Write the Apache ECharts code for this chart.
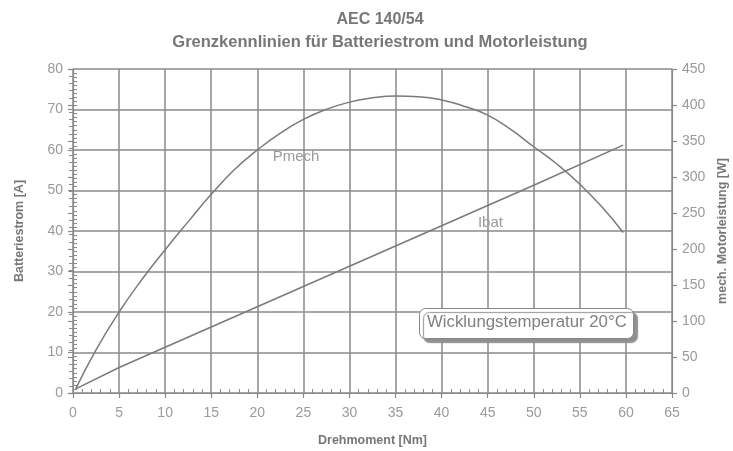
<!DOCTYPE html>
<html>
<head>
<meta charset="utf-8">
<script src="https://cdn.jsdelivr.net/npm/echarts@6/dist/echarts.min.js"></script>
<style>html,body{margin:0;padding:0;background:#fff;}#c{width:733px;height:451px;}</style>
</head>
<body>
<div id="c"></div>
<script>
const torque = [0.3, 2.5, 5, 7.5, 10, 12.5, 15, 17.5, 20, 22.5, 25, 27.5, 30, 32.5, 35, 37.5, 40, 42.5, 45, 47.5, 50, 52.5, 55, 57.5, 59.7];
const pmech  = [6, 60, 112.5, 158, 199, 238, 276, 310, 337.5, 361, 380, 394, 404, 410, 412.5, 411.5, 407, 398, 386, 366, 342, 318, 290, 257, 223];
const ibatTorque = [0.3, 5, 10, 20, 30, 40, 50, 59.7];
const ibat       = [1, 6.3, 11.3, 21.3, 31.3, 41.3, 51.3, 61.2];
const xTicks = [0, 65, 5];
const leftTicks = [0, 80, 10];
const rightTicks = [0, 450, 50];

const grey = '#8a8a8a';
const txt = '#9a9a9a';
const F = 'Liberation Sans, Arial, sans-serif';

const chart = echarts.init(document.getElementById('c'), null, {renderer: 'canvas'});
const axisCommon = {
  axisLine: {show: true, onZero: false, lineStyle: {color: grey, width: 1.2}},
  axisLabel: {color: txt, fontSize: 14, fontFamily: F, margin: 10},
  nameTextStyle: {color: '#777', fontSize: 12.5, fontWeight: 'bold', fontFamily: F}
};
const hiddenLbl = {color: txt, fontSize: 15, fontFamily: F, show: true, position: 'inside'};
chart.setOption({
  animation: false,
  title: [
    {text: 'AEC 140/54', left: 375, textAlign: 'center', top: 7, textStyle: {color: '#777', fontSize: 16, fontWeight: 'bold', fontFamily: F}},
    {text: 'Grenzkennlinien für Batteriestrom und Motorleistung', left: 375, textAlign: 'center', top: 29, textStyle: {color: '#777', fontSize: 16.5, fontWeight: 'bold', fontFamily: F}}
  ],
  grid: {left: 73, right: 61, top: 69, bottom: 58, containLabel: false, outerBoundsMode: 'none'},
  xAxis: [
    Object.assign({}, axisCommon, {
      type: 'value', min: xTicks[0], max: xTicks[1], interval: xTicks[2],
      name: 'Drehmoment [Nm]', nameLocation: 'middle', nameGap: 41,
      axisLabel: {color: txt, fontSize: 14, fontFamily: F, margin: 13},
      axisTick: {show: true, length: 5, lineStyle: {color: grey, width: 1.2}},
      splitLine: {show: true, lineStyle: {color: grey, width: 1.5}}
    }),
    {type: 'value', min: xTicks[0], max: xTicks[1], interval: xTicks[2], position: 'bottom',
      axisLine: {show: false}, axisLabel: {show: false}, splitLine: {show: false},
      axisTick: {show: false, inside: true},
      minorTick: {show: true, splitNumber: 5, length: 4, lineStyle: {color: grey, width: 1}}}
  ],
  yAxis: [
    Object.assign({}, axisCommon, {
      type: 'value', min: leftTicks[0], max: leftTicks[1], interval: leftTicks[2], position: 'left',
      name: 'Batteriestrom [A]', nameLocation: 'middle', nameGap: 47, nameRotate: 90,
      axisTick: {show: true, length: 5, lineStyle: {color: grey, width: 1.2}},
      splitLine: {show: true, lineStyle: {color: grey, width: 1.5}}
    }),
    Object.assign({}, axisCommon, {
      type: 'value', min: rightTicks[0], max: rightTicks[1], interval: rightTicks[2], position: 'right',
      name: 'mech. Motorleistung [W]', nameLocation: 'middle', nameGap: 44, nameRotate: 90,
      axisTick: {show: true, length: 5, lineStyle: {color: grey, width: 1.2}},
      splitLine: {show: false}
    }),
    {type: 'value', min: leftTicks[0], max: leftTicks[1], interval: leftTicks[2], position: 'left',
      axisLine: {show: false}, axisLabel: {show: false}, splitLine: {show: false},
      axisTick: {show: false, inside: true},
      minorTick: {show: true, splitNumber: 10, length: 4, lineStyle: {color: grey, width: 1}}},
    {type: 'value', min: rightTicks[0], max: rightTicks[1], interval: rightTicks[2], position: 'right',
      axisLine: {show: false}, axisLabel: {show: false}, splitLine: {show: false},
      axisTick: {show: true, inside: true, length: 5, lineStyle: {color: grey, width: 1.2}},
      minorTick: {show: true, splitNumber: 5, length: 4, lineStyle: {color: grey, width: 1}}}
  ],
  series: [
    {
      name: 'Pmech', type: 'line', yAxisIndex: 1, smooth: 0.5, symbol: 'none',
      lineStyle: {color: '#7a7a7a', width: 1.5},
      data: torque.map((t, i) => [t, pmech[i]]),
      markPoint: {symbol: 'circle', symbolSize: 1, silent: true, itemStyle: {color: 'rgba(0,0,0,0)'},
        data: [{coord: [24.2, 328], label: Object.assign({formatter: 'Pmech'}, hiddenLbl)}]}
    },
    {
      name: 'Ibat', type: 'line', yAxisIndex: 0, symbol: 'none',
      lineStyle: {color: '#7a7a7a', width: 1.5},
      data: ibatTorque.map((t, i) => [t, ibat[i]]),
      markPoint: {symbol: 'circle', symbolSize: 1, silent: true, itemStyle: {color: 'rgba(0,0,0,0)'},
        data: [{coord: [45.3, 42], label: Object.assign({formatter: 'Ibat'}, hiddenLbl)}]}
    }
  ],
  graphic: [
    {type: 'rect', left: 419, top: 308, z: 100, shape: {x: 0, y: 0, width: 214, height: 30, r: 6},
      style: {fill: '#fff', stroke: '#888', lineWidth: 1, shadowColor: '#8f8f8f', shadowBlur: 1, shadowOffsetX: 4, shadowOffsetY: 4}},
    {type: 'text', left: 427, top: 314, z: 101,
      style: {text: 'Wicklungstemperatur 20°C', fill: '#808080', fontSize: 16.8, fontFamily: F}}
  ]
});
</script>
</body>
</html>
